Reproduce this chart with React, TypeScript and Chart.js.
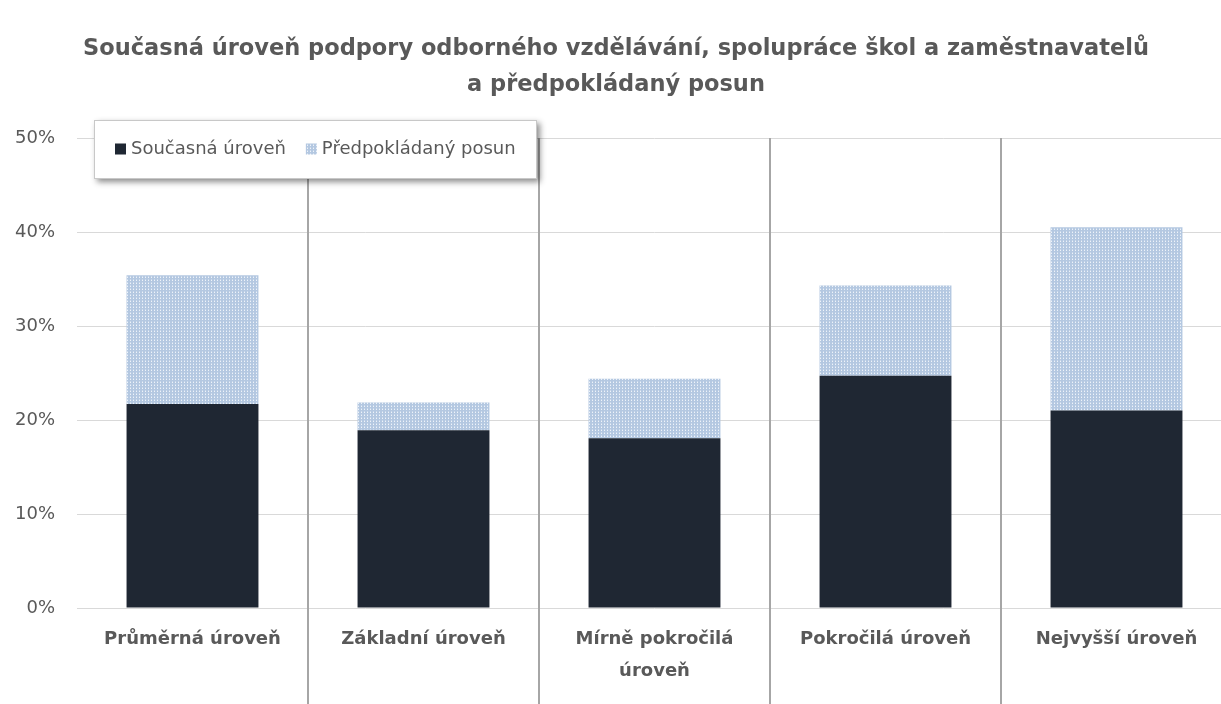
import React, { useEffect, useRef } from "react";
import { Chart, registerables } from "chart.js";

Chart.register(...registerables);

const titleLines = [
  "Současná úroveň podpory odborného vzdělávání, spolupráce škol a zaměstnavatelů",
  "a předpokládaný posun",
];
const categories: (string | string[])[] = [
  "Průměrná úroveň",
  "Základní úroveň",
  ["Mírně pokročilá", "úroveň"],
  "Pokročilá úroveň",
  "Nejvyšší úroveň",
];
const seriesNames = ["Současná úroveň", "Předpokládaný posun"];
const currentLevel = [21.7, 18.9, 18.05, 24.7, 21.0];
const expectedShift = [13.7, 2.95, 6.35, 9.6, 19.5];
const yTicks = [0, 10, 20, 30, 40, 50];

const DARK = "#1f2733";
const TEXT = "#595959";

function makePattern(): CanvasPattern | string {
  const c = document.createElement("canvas");
  c.width = 3;
  c.height = 3;
  const g = c.getContext("2d");
  if (!g) return "#c4d5ea";
  g.fillStyle = "#b4c8e1";
  g.fillRect(0, 0, 3, 3);
  g.fillStyle = "#eef3f9";
  g.fillRect(1, 1, 1, 1);
  g.fillStyle = "#ccdaec";
  g.fillRect(1, 0, 1, 1);
  const p = g.createPattern(c, "repeat");
  return p || "#c4d5ea";
}

const bgPlugin = {
  id: "bgFill",
  beforeDraw(chart: any) {
    const ctx = chart.ctx;
    ctx.save();
    ctx.fillStyle = "#ffffff";
    ctx.fillRect(0, 0, chart.width, chart.height);
    ctx.restore();
  },
};

const dividerPlugin = {
  id: "dividers",
  beforeDatasetsDraw(chart: any) {
    const x = chart.scales.x;
    const ctx = chart.ctx;
    const top = chart.chartArea.top;
    ctx.save();
    ctx.strokeStyle = "#a6a6a6";
    ctx.lineWidth = 2;
    for (let i = 0; i < categories.length - 1; i++) {
      const px = Math.round((x.getPixelForValue(i) + x.getPixelForValue(i + 1)) / 2);
      ctx.beginPath();
      ctx.moveTo(px, top);
      ctx.lineTo(px, chart.height);
      ctx.stroke();
    }
    ctx.restore();
  },
};

const legendPlugin = {
  id: "boxLegend",
  afterDraw(chart: any) {
    const ctx = chart.ctx;
    const bx = 94,
      by = 120,
      bw = 443,
      bh = 59;
    ctx.save();
    ctx.shadowColor = "rgba(0,0,0,0.45)";
    ctx.shadowBlur = 6;
    ctx.shadowOffsetX = 3;
    ctx.shadowOffsetY = 3;
    ctx.fillStyle = "#ffffff";
    ctx.fillRect(bx, by, bw, bh);
    ctx.restore();
    ctx.save();
    ctx.strokeStyle = "#c8c8c8";
    ctx.lineWidth = 1;
    ctx.strokeRect(bx + 0.5, by + 0.5, bw - 1, bh - 1);
    ctx.font = '18px "DejaVu Sans"';
    ctx.textBaseline = "middle";
    ctx.fillStyle = TEXT;
    let x = 115;
    const cy = by + bh / 2;
    chart.data.datasets.forEach((ds: any) => {
      ctx.fillStyle = ds.backgroundColor;
      ctx.fillRect(x, cy - 6, 11, 11);
      ctx.fillStyle = TEXT;
      ctx.fillText(ds.label, x + 16, cy);
      x += 16 + ctx.measureText(ds.label).width + 20;
    });
    ctx.restore();
  },
};

export default function App() {
  const ref = useRef<HTMLCanvasElement | null>(null);
  useEffect(() => {
    document.body.style.margin = "0";
    document.body.style.overflow = "hidden";
    if (!ref.current) return;
    const pattern = makePattern();
    const chart = new Chart(ref.current, {
      type: "bar",
      data: {
        labels: categories,
        datasets: [
          {
            label: seriesNames[0],
            data: currentLevel,
            backgroundColor: DARK,
            barPercentage: 0.571,
            categoryPercentage: 1,
          },
          {
            label: seriesNames[1],
            data: expectedShift,
            backgroundColor: pattern as any,
            barPercentage: 0.571,
            categoryPercentage: 1,
          },
        ],
      },
      options: {
        responsive: false,
        animation: false,
        devicePixelRatio: 1,
        layout: { padding: 0 },
        plugins: {
          title: {
            display: true,
            text: titleLines,
            color: TEXT,
            font: { family: '"DejaVu Sans"', size: 22.5, weight: "bold", lineHeight: 1.6 },
            padding: { top: 31, bottom: 35 },
          },
          legend: { display: false },
          tooltip: { enabled: false },
        },
        scales: {
          x: {
            stacked: true,
            grid: { display: false },
            border: { display: false },
            ticks: {
              color: TEXT,
              font: { family: '"DejaVu Sans"', size: 18, weight: "bold", lineHeight: 1.75 },
              padding: 8,
              maxRotation: 0,
              autoSkip: false,
            },
            afterFit: (s: any) => {
              s.height = 96;
            },
          },
          y: {
            stacked: true,
            min: yTicks[0],
            max: yTicks[yTicks.length - 1],
            grid: { color: "#d9d9d9", drawTicks: false },
            border: { display: false },
            ticks: {
              stepSize: 10,
              color: TEXT,
              font: { family: '"DejaVu Sans"', size: 18 },
              padding: 22,
              callback: (v: any) => v + "%",
            },
            afterFit: (s: any) => {
              s.width = 77;
            },
          },
        },
      },
      plugins: [bgPlugin, dividerPlugin, legendPlugin],
    });
    return () => chart.destroy();
  }, []);
  return (
    <div style={{ width: 1221, height: 704, overflow: "hidden", position: "relative", background: "#fff" }}>
      <canvas ref={ref} width={1232} height={704} style={{ display: "block" }} />
    </div>
  );
}
